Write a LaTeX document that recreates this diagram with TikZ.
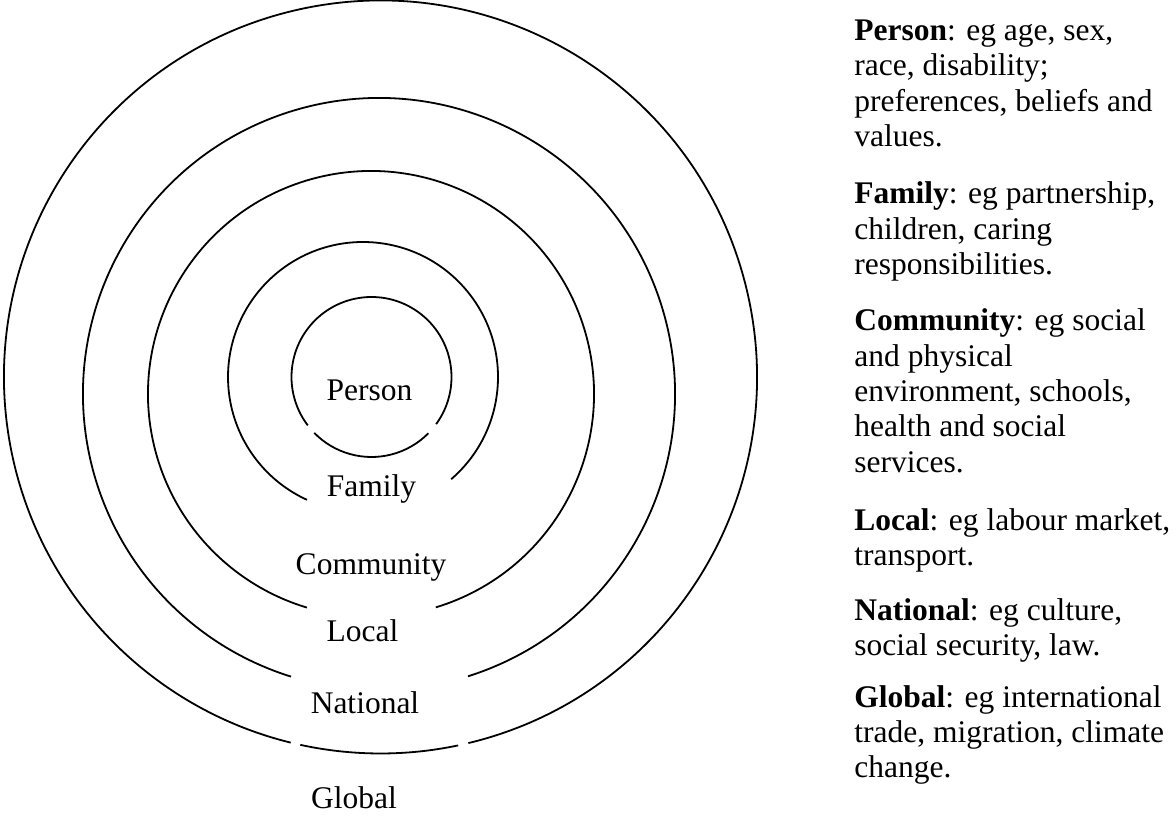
\documentclass[tikz,border=0pt]{standalone}
\usepackage{fontspec}
\setmainfont{Liberation Serif}

\begin{document}
\begin{tikzpicture}[x=0.5pt,y=0.5pt,
  ring/.style={line width=0.9pt},
  lbl/.style={inner sep=0pt,anchor=base,font=\fontsize{15.75}{17.65}\selectfont},
  note/.style={inner sep=0pt,anchor=base west,align=left,font=\fontsize{15.75}{17.65}\selectfont}]

  \useasboundingbox (0,0) rectangle (1173,815);

  % ring centres
  \coordinate (c1) at (371.5,438);
  \coordinate (c2) at (363,438);
  \coordinate (c3) at (371,421);
  \coordinate (c4) at (379,421);
  \coordinate (c5) at (380.5,438);

  % rings, inner to outer, open at the bottom
  \draw[ring] ([shift={(-36.1:40pt)}]c1) arc[start angle=-36.1,end angle=217.2,radius=40pt];
  \draw[ring] ([shift={(224.3:40pt)}]c1) arc[start angle=224.3,end angle=315.3,radius=40pt];
  \draw[ring] ([shift={(-49.2:67.5pt)}]c2) arc[start angle=-49.2,end angle=245.5,radius=67.5pt];
  \draw[ring] ([shift={(-73.1:111.5pt)}]c3) arc[start angle=-73.1,end angle=253.3,radius=111.5pt];
  \draw[ring] ([shift={(-72.5:148pt)}]c4) arc[start angle=-72.5,end angle=252.7,radius=148pt];
  \draw[ring] ([shift={(-76.5:188.25pt)}]c5) arc[start angle=-76.5,end angle=256.2,radius=188.25pt];
  \draw[ring] ([shift={(257.7:188.25pt)}]c5) arc[start angle=257.7,end angle=281.9,radius=188.25pt];

  % ring labels
  \node[lbl] (person) at (369.5,414.3) {Person};
  \node[lbl] (family) at (371.5,318) {Family};
  \node[lbl] (community) at (371,241) {Community};
  \node[lbl] (local) at (362.5,173.3) {Local};
  \node[lbl] (national) at (365,101.7) {National};
  \node[lbl] (global) at (354,7) {Global};

  % notes on the right (placed by the baseline of their last line)
  \node[note] (pnote) at (854,668.4) {\textbf{Person}: eg age, sex,\\race, disability;\\preferences, beliefs and\\values.};
  \node[note] (fnote) at (854,540.4) {\textbf{Family}: eg partnership,\\children, caring\\responsibilities.};
  \node[note] (cnote) at (854,342.8) {\textbf{Community}: eg social\\and physical\\environment, schools,\\health and social\\services.};
  \node[note] (lnote) at (854,249.7) {\textbf{Local}: eg labour market,\\transport.};
  \node[note] (nnote) at (854,159.7) {\textbf{National}: eg culture,\\social security, law.};
  \node[note] (gnote) at (854,37.4) {\textbf{Global}: eg international\\trade, migration, climate\\change.};

\end{tikzpicture}
\end{document}
